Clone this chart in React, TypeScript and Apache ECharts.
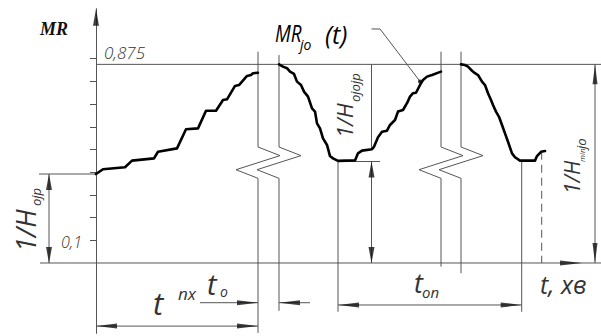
import React, { useEffect, useRef } from 'react';
import * as echarts from 'echarts';

// ---- Data (t in arbitrary time units, MR value) ----
// rising part before the first break
const T_RISE = [0, 7, 29, 36, 58, 62, 81, 90, 102, 110, 120, 127, 131, 139, 143, 151, 155, 157, 162];
const MR_RISE = [0.392, 0.413, 0.422, 0.451, 0.461, 0.49, 0.505, 0.589, 0.593, 0.671, 0.671, 0.718, 0.721, 0.78, 0.784, 0.824, 0.828, 0.836, 0.838];
// fall + rise between breaks
const T_MID = [183, 187, 191, 194, 198, 201, 205, 208, 212, 216, 219, 221, 224, 227, 231, 234, 237, 242, 259, 262, 266, 276, 278, 282, 286, 291, 294, 299, 302, 307, 311, 314, 317, 320, 325, 327, 331, 336, 345];
const MR_MID = [0.875, 0.865, 0.858, 0.843, 0.833, 0.799, 0.784, 0.755, 0.733, 0.681, 0.667, 0.615, 0.593, 0.549, 0.52, 0.471, 0.461, 0.45, 0.452, 0.483, 0.495, 0.501, 0.512, 0.554, 0.578, 0.583, 0.608, 0.63, 0.667, 0.674, 0.704, 0.733, 0.748, 0.75, 0.792, 0.806, 0.821, 0.828, 0.843];
// last fall
const T_FALL = [365, 369, 372, 376, 379, 382, 386, 389, 392, 395, 397, 400, 403, 406, 409, 412, 416, 419, 424, 439, 441, 445, 449];
const MR_FALL = [0.875, 0.872, 0.865, 0.847, 0.836, 0.828, 0.799, 0.784, 0.748, 0.718, 0.696, 0.667, 0.644, 0.608, 0.571, 0.534, 0.483, 0.466, 0.451, 0.451, 0.471, 0.49, 0.493];

const Y_TICKS = [0.1, 0.2, 0.3, 0.4, 0.5, 0.6, 0.7, 0.8, 0.9];
const Y_MIN = -0.31;
const Y_MAX = 1.12;
const MR_TOP = 0.875;
const MR_START = 0.392;
const MR_MIN = 0.447;

// key time marks
const T_BREAK = [162, 183, 345, 365];
const T_MIN1 = 242;
const T_MID_MARK = 275.5;
const T_MIN2 = 425.7;
const T_END = 445.7;
const T_HMIN = 499;
const T_DIM_L = -47;
const T_LEFT = -56;
const T_RIGHT = 505;
const T_ARROW = 486;
const V_TPX = -0.278;
const V_TO = -0.175;
const V_TON = -0.185;

const zip = (a: number[], b: number[]) => a.map((v, i) => [v, b[i]]);

const breakLine = (t: number, top: number, bottom: number) => [
  [t, top], [t, 0.511], [t + 22, 0.473], [t - 22, 0.411], [t, 0.373], [t, bottom],
];

type Dir = 'up' | 'down' | 'left' | 'right';
const arrow = (t: number, v: number, dir: Dir, w = 5, h = 18) => {
  const rot = { up: 0, down: 180, left: 90, right: -90 }[dir];
  const off = { up: [0, h / 2], down: [0, -h / 2], left: [h / 2, 0], right: [-h / 2, 0] }[dir];
  return { value: [t, v], symbolRotate: rot, symbolOffset: off, symbolSize: [w, h] };
};

export default function App() {
  const ref = useRef<HTMLDivElement>(null);
  useEffect(() => {
    document.body.style.margin = '0';
    const chart = echarts.init(ref.current!, null, { renderer: 'svg' });
    const thin = '#555';
    const txt = (text: string, x: number, y: number, size: number, extra: any = {}, el: any = {}) => ({
      type: 'text', x, y, silent: true, ...el,
      style: {
        text, fontSize: size, fontFamily: 'Open Sans', fontStyle: 'italic', fontWeight: 400,
        fill: '#333', align: 'left', verticalAlign: 'middle', ...extra,
      },
    });
    const curveStyle = { color: '#000', width: 2.6, join: 'round', cap: 'round' };
    const option: any = {
      animation: false,
      grid: { left: 40, right: 0, top: 8.76, bottom: 2.64 },
      xAxis: {
        type: 'value', min: T_LEFT, max: T_RIGHT,
        axisLine: { show: false }, axisTick: { show: false }, axisLabel: { show: false }, splitLine: { show: false },
      },
      yAxis: {
        type: 'value', min: Y_MIN, max: Y_MAX,
        axisLine: { show: true, onZero: true, lineStyle: { color: thin, width: 1 } },
        axisTick: { show: true, customValues: Y_TICKS, length: 6, lineStyle: { color: thin } },
        axisLabel: { show: false },
        splitLine: { show: false },
      },
      series: [
        {
          type: 'lines', coordinateSystem: 'cartesian2d', polyline: true, silent: true, z: 1,
          lineStyle: { color: thin, width: 1, opacity: 1, curveness: 0 },
          data: [
            { coords: [[0, MR_TOP], [T_RIGHT, MR_TOP]] },
            { coords: [[T_LEFT, 0], [T_RIGHT, 0]] },
            { coords: breakLine(T_BREAK[0], 0.931, -0.308) },
            { coords: breakLine(T_BREAK[1], 0.916, -0.211) },
            { coords: breakLine(T_BREAK[2], 0.931, -0.016) },
            { coords: breakLine(T_BREAK[3], 0.931, -0.045) },
            { coords: [[-57, MR_START], [0, MR_START]] },
            { coords: [[T_MIN1, 0.45], [T_MIN1, -0.215]] },
            { coords: [[T_MID_MARK, MR_TOP], [T_MID_MARK, 0.5]] },
            { coords: [[T_MIN1, MR_MIN], [284, MR_MIN]] },
            { coords: [[T_MIN2, 0.45], [T_MIN2, -0.215]] },
            { coords: [[T_END, 0.49], [T_END, 0]], lineStyle: { type: [8, 5] } },
            { coords: [[T_MID_MARK, 1.031], [284, 1.031], [324, 0.8]] },
            // dimension lines
            { coords: [[T_DIM_L, MR_START], [T_DIM_L, 0]] },
            { coords: [[T_MID_MARK, MR_MIN], [T_MID_MARK, 0]] },
            { coords: [[T_HMIN, MR_TOP], [T_HMIN, 0]] },
            { coords: [[0, V_TPX], [T_BREAK[0], V_TPX]] },
            { coords: [[104, V_TO], [T_BREAK[0], V_TO]] },
            { coords: [[214, V_TO], [T_BREAK[1], V_TO]] },
            { coords: [[T_MIN1, V_TON], [T_MIN2, V_TON]] },
          ],
        },
        { type: 'line', data: zip(T_RISE, MR_RISE), symbol: 'none', silent: true, z: 3, lineStyle: curveStyle },
        { type: 'line', data: zip(T_MID, MR_MID), symbol: 'none', silent: true, z: 3, lineStyle: curveStyle },
        { type: 'line', data: zip(T_FALL, MR_FALL), symbol: 'none', silent: true, z: 3, lineStyle: curveStyle },
        {
          type: 'scatter', symbol: 'triangle', silent: true, z: 4, itemStyle: { color: '#111' },
          data: [
            arrow(0, Y_MAX, 'up', 6, 17),
            arrow(T_ARROW, 0, 'right', 5, 22),
            arrow(T_DIM_L, MR_START, 'up', 6, 16),
            arrow(T_DIM_L, 0, 'down', 6, 16),
            arrow(T_MID_MARK, MR_MIN, 'up', 6, 16),
            arrow(T_MID_MARK, 0, 'down', 6, 16),
            arrow(T_HMIN, MR_TOP, 'up', 5, 20),
            arrow(T_HMIN, 0, 'down', 5, 20),
            arrow(0, V_TPX, 'left', 5, 21),
            arrow(T_BREAK[0], V_TPX, 'right', 5, 21),
            arrow(T_BREAK[0], V_TO, 'right', 5, 21),
            arrow(T_BREAK[1], V_TO, 'left', 5, 21),
            arrow(T_MIN1, V_TON, 'left', 5, 21),
            arrow(T_MIN2, V_TON, 'right', 5, 21),
          ],
        },
        {
          type: 'scatter', data: [[324, 0.8]], symbolSize: 4, silent: true, z: 4,
          itemStyle: { color: '#000' },
        },
      ],
      graphic: [
        { type: 'text', x: 40, y: 29, silent: true,
          style: { text: 'MR', fontSize: 18, fontFamily: 'Liberation Serif', fontStyle: 'italic', fontWeight: 'bold', fill: '#111', verticalAlign: 'middle' } },
        txt('0,875', 104, 52.5, 17, { fontWeight: 300 }),
        txt('0,1', 82, 241.5, 16, { align: 'right', fontWeight: 300 }),
        txt('MR', 275, 33.5, 23, { fill: '#000' }, { scaleX: 0.82 }),
        txt('jo', 300, 44, 14, { fill: '#000' }),
        txt('(t)', 325, 34, 25, { fill: '#000' }),
        txt('t', 153, 303, 31),
        txt('пх', 178, 293, 17),
        txt('t', 207, 283, 29),
        txt('o', 220, 291, 14),
        txt('t', 414, 282, 27),
        txt('оп', 422, 292, 15),
        txt('t, хв', 540, 284, 25),
        { type: 'group', x: 25, y: 252, rotation: Math.PI / 2, children: [
          txt('1/H', 0, 0, 27), txt('ojp', 46, 11, 13),
        ] },
        { type: 'group', x: 344, y: 138, rotation: Math.PI / 2, children: [
          txt('1/H', 0, 0, 22), txt('ojojp', 36, 11, 13),
        ] },
        { type: 'group', x: 572, y: 194, rotation: Math.PI / 2, children: [
          txt('1/H', 0, 0, 21), txt('min', 32, 9, 8), txt('jo', 45, 9, 13),
        ] },
      ],
    };
    chart.setOption(option);
    return () => chart.dispose();
  }, []);
  return <div ref={ref} style={{ width: 601, height: 336 }} />;
}
